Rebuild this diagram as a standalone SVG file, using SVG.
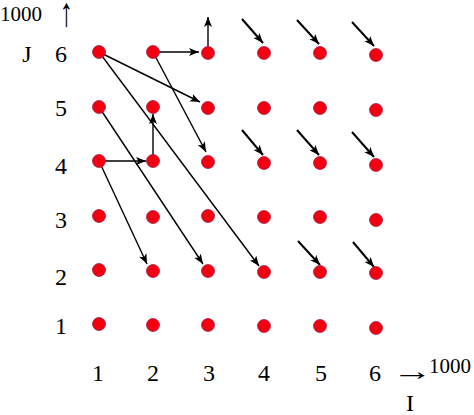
<svg xmlns="http://www.w3.org/2000/svg" width="474" height="415" viewBox="0 0 474 415">
<style>
.dot{fill:#f20010;stroke:#a0204a;stroke-width:0.8}
.lbl{font-family:"Liberation Serif","Times New Roman",serif;font-size:24px;fill:#000;text-anchor:middle}
.sm{font-family:"Liberation Serif","Times New Roman",serif;font-size:21px;fill:#000}
.c{stroke:#000;stroke-width:1.4;fill:none;marker-end:url(#ah)}
.s{stroke:#000;stroke-width:2;fill:none;marker-end:url(#ah)}
</style>
<defs>
<marker id="ah" markerUnits="userSpaceOnUse" markerWidth="12" markerHeight="10" refX="10" refY="4" orient="auto">
<path d="M0,0 L10,4 L0,8 L2.5,4 z" fill="#000"/>
</marker>
</defs>
<rect width="474" height="415" fill="#fff"/>
<g id="connectors">
<line class="c" x1="99" y1="52" x2="200" y2="102"/>
<line class="c" x1="99" y1="52" x2="259" y2="266"/>
<line class="c" x1="153" y1="52" x2="199" y2="52"/>
<line class="c" x1="208" y1="53" x2="208" y2="17"/>
<line class="c" x1="153" y1="52" x2="206" y2="152"/>
<line class="c" x1="99" y1="107" x2="203" y2="264"/>
<line class="c" x1="99" y1="161" x2="146" y2="161"/>
<line class="c" x1="153" y1="161" x2="153" y2="114"/>
<line class="c" x1="99" y1="161" x2="147" y2="264"/>
<line class="s" x1="242" y1="19" x2="263" y2="43"/>
<line class="s" x1="297" y1="20" x2="319" y2="44"/>
<line class="s" x1="352" y1="22" x2="374" y2="46"/>
<line class="s" x1="242" y1="130" x2="263" y2="155"/>
<line class="s" x1="297" y1="130" x2="319" y2="155"/>
<line class="s" x1="352" y1="132" x2="374" y2="157"/>
<line class="s" x1="298" y1="241" x2="320" y2="265"/>
<line class="s" x1="353" y1="242" x2="374" y2="267"/>
</g>
<g id="n1-6"><circle class="dot" cx="99" cy="52" r="6.5"/></g>
<g id="n2-6"><circle class="dot" cx="153" cy="52" r="6.5"/></g>
<g id="n3-6"><circle class="dot" cx="208" cy="53" r="6.5"/></g>
<g id="n4-6"><circle class="dot" cx="264" cy="53" r="6.5"/></g>
<g id="n5-6"><circle class="dot" cx="320" cy="53" r="6.5"/></g>
<g id="n6-6"><circle class="dot" cx="376" cy="55" r="6.5"/></g>
<g id="n1-5"><circle class="dot" cx="99" cy="107" r="6.5"/></g>
<g id="n2-5"><circle class="dot" cx="153" cy="107" r="6.5"/></g>
<g id="n3-5"><circle class="dot" cx="208" cy="108" r="6.5"/></g>
<g id="n4-5"><circle class="dot" cx="264" cy="108" r="6.5"/></g>
<g id="n5-5"><circle class="dot" cx="320" cy="108" r="6.5"/></g>
<g id="n6-5"><circle class="dot" cx="376" cy="110" r="6.5"/></g>
<g id="n1-4"><circle class="dot" cx="99" cy="161" r="6.5"/></g>
<g id="n2-4"><circle class="dot" cx="153" cy="161" r="6.5"/></g>
<g id="n3-4"><circle class="dot" cx="208" cy="162" r="6.5"/></g>
<g id="n4-4"><circle class="dot" cx="264" cy="163" r="6.5"/></g>
<g id="n5-4"><circle class="dot" cx="320" cy="163" r="6.5"/></g>
<g id="n6-4"><circle class="dot" cx="376" cy="165" r="6.5"/></g>
<g id="n1-3"><circle class="dot" cx="99" cy="216" r="6.5"/></g>
<g id="n2-3"><circle class="dot" cx="153" cy="217" r="6.5"/></g>
<g id="n3-3"><circle class="dot" cx="208" cy="216" r="6.5"/></g>
<g id="n4-3"><circle class="dot" cx="264" cy="217" r="6.5"/></g>
<g id="n5-3"><circle class="dot" cx="320" cy="217" r="6.5"/></g>
<g id="n6-3"><circle class="dot" cx="376" cy="220" r="6.5"/></g>
<g id="n1-2"><circle class="dot" cx="99" cy="270" r="6.5"/></g>
<g id="n2-2"><circle class="dot" cx="153" cy="271" r="6.5"/></g>
<g id="n3-2"><circle class="dot" cx="208" cy="271" r="6.5"/></g>
<g id="n4-2"><circle class="dot" cx="264" cy="272" r="6.5"/></g>
<g id="n5-2"><circle class="dot" cx="320" cy="272" r="6.5"/></g>
<g id="n6-2"><circle class="dot" cx="376" cy="273" r="6.5"/></g>
<g id="n1-1"><circle class="dot" cx="99" cy="324" r="6.5"/></g>
<g id="n2-1"><circle class="dot" cx="153" cy="325" r="6.5"/></g>
<g id="n3-1"><circle class="dot" cx="208" cy="325" r="6.5"/></g>
<g id="n4-1"><circle class="dot" cx="264" cy="326" r="6.5"/></g>
<g id="n5-1"><circle class="dot" cx="320" cy="326" r="6.5"/></g>
<g id="n6-1"><circle class="dot" cx="376" cy="328" r="6.5"/></g>
<g id="labels">
<text class="sm" x="0" y="21">1000</text>
<text class="lbl" transform="translate(66.5,26) scale(1.15,1.7)">↑</text>
<text class="lbl" x="27" y="62">J</text>
<text class="lbl" x="61" y="62">6</text>
<text class="lbl" x="61" y="116">5</text>
<text class="lbl" x="61" y="174">4</text>
<text class="lbl" x="61" y="228">3</text>
<text class="lbl" x="61" y="285">2</text>
<text class="lbl" x="61" y="334">1</text>
<text class="lbl" x="98" y="381">1</text>
<text class="lbl" x="153" y="381">2</text>
<text class="lbl" x="209" y="381">3</text>
<text class="lbl" x="264" y="381">4</text>
<text class="lbl" x="321" y="381">5</text>
<text class="lbl" x="375" y="381">6</text>
<text class="lbl" transform="translate(412.5,380) scale(1.7,1.1)">→</text>
<text class="sm" x="429" y="373">1000</text>
<text class="lbl" x="410" y="411">I</text>
</g>
</svg>
